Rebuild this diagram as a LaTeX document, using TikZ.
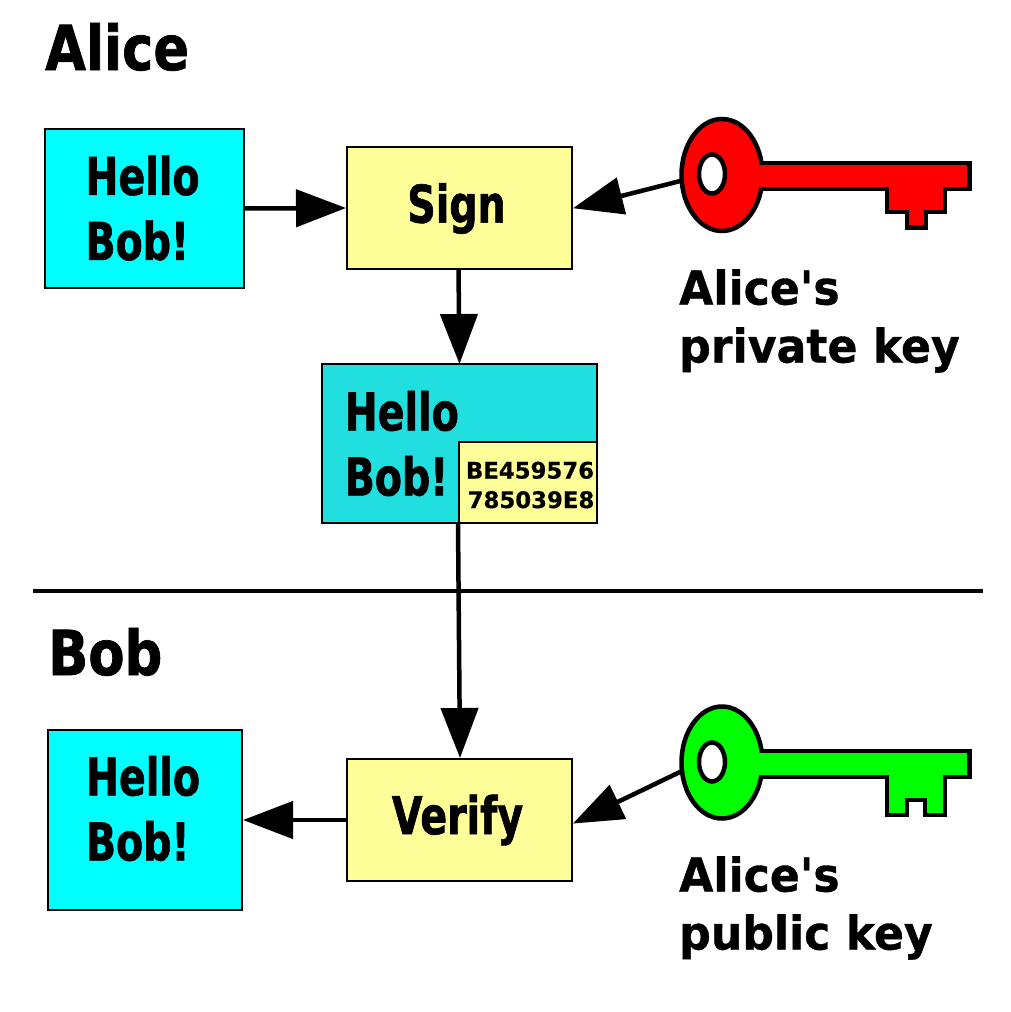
\documentclass[tikz,border=0pt]{standalone}
\usepackage{fontspec}
\usetikzlibrary{arrows.meta,shapes.geometric}
\setmainfont{DejaVu Sans}[Ligatures=NoCommon]
\newfontfamily\wordfont[BoldFont={DejaVu Sans Bold},BoldFeatures={FakeStretch=0.76,FakeBold=1.2}]{DejaVu Sans}
\newfontfamily\titlefont[BoldFont={DejaVu Sans Bold},BoldFeatures={FakeStretch=0.85,FakeBold=1.2}]{DejaVu Sans}
\newfontfamily\labelfont[BoldFont={DejaVu Sans Bold},BoldFeatures={FakeStretch=0.95,FakeBold=0.8}]{DejaVu Sans}
\newfontfamily\sigfont[BoldFont={DejaVu Sans Bold},BoldFeatures={FakeBold=0.4}]{DejaVu Sans}
\definecolor{msgcyan}{HTML}{00FFFF}
\definecolor{sigteal}{HTML}{22DFDF}
\definecolor{boxyellow}{HTML}{FFFF99}
\definecolor{keyred}{HTML}{FF0000}
\definecolor{keygreen}{HTML}{00FF00}
\tikzset{
  box/.style={draw=black,line width=2pt,outer sep=0pt,inner sep=0pt},
  msgbox/.style={box,fill=msgcyan},
  opbox/.style={box,fill=boxyellow},
  word/.style={inner sep=0pt,align=left,font=\wordfont\bfseries\fontsize{52}{65}\selectfont},
  conn/.style={line width=4.5pt,black,-{Triangle[length=50pt,width=37pt]},shorten >=1pt},
  plainconn/.style={line width=4pt,black},
  keyhead/.style={ellipse,draw=black,line width=4.5pt,minimum width=81pt,minimum height=112pt,inner sep=0pt,outer sep=0pt},
  keyhole/.style={ellipse,draw=black,fill=white,line width=4.5pt,minimum width=26pt,minimum height=39pt,inner sep=0pt,outer sep=0pt},
  keyline/.style={draw=black,line width=4.5pt,line join=miter,line cap=butt},
  title/.style={anchor=base west,inner sep=0pt,font=\titlefont\bfseries\fontsize{62}{70}\selectfont},
  keylabel/.style={anchor=north west,inner sep=0pt,align=left,font=\labelfont\bfseries\fontsize{46.5}{58}\selectfont},
}
\begin{document}
\begin{tikzpicture}[x=1pt,y=-1pt]
\useasboundingbox (0,0) rectangle (1010,1012);
\fill[white] (0,0) rectangle (1010,1012);

% divider
\coordinate (divL) at (33,590.5);
\coordinate (divR) at (983,590.5);

% titles
\node[title] (alice) at (45,70) {Alice};
\node[title] (bob) at (48,675) {Bob};

% boxes
\node[msgbox,minimum width=199pt,minimum height=159pt] (msgA) at (144.5,208.5) {};
\node[word] (msgAtext) at (142.5,208) {Hello\\Bob!};
\node[opbox,minimum width=225pt,minimum height=122pt] (sign) at (459.5,208) {};
\node[word] (signtext) at (456.5,208.5) {Sign};
\node[box,fill=sigteal,minimum width=275pt,minimum height=159pt] (signed) at (459.5,443.5) {};
\node[word,anchor=west] (signedtext) at (344.5,443.5) {Hello\\Bob!};
\node[opbox,minimum width=138pt,minimum height=81pt] (sig) at (528,482.5) {};
\node[inner sep=0pt,align=center,font=\sigfont\bfseries\fontsize{22.8}{29.5}\selectfont] (sigtext) at (530,485) {BE459576\\\hspace*{2pt}785039E8};
\node[opbox,minimum width=225pt,minimum height=122pt] (verify) at (459.5,820) {};
\node[word] (verifytext) at (457.5,820) {Verify};
\node[msgbox,minimum width=194pt,minimum height=180pt] (msgB) at (145,820) {};
\node[word] (msgBtext) at (143,808.5) {Hello\\Bob!};

% connectors
\draw[plainconn] (divL) -- (divR);
\draw[conn] (msgA.east) -- (sign.west);
\draw[conn] ([xshift=-1pt]sign.south) -- ([yshift=-1pt]signed.north);
\draw[conn] ([xshift=-1.5pt]signed.south) -- ([xshift=.5pt]verify.north);
\draw[conn] (verify.west) -- (msgB.east);

% red key
\fill[keyred] (750,163) -- (969.5,163) -- (969.5,189) -- (945,189) -- (945,212) -- (926,212) -- (926,227.5) -- (907,227.5) -- (907,212) -- (887,212) -- (887,189) -- (750,189) -- cycle;
\node[keyhead,fill=keyred] (keyR) at (722,175) {};
\fill[keyred] (750,165) rectangle (766,187);
\draw[keyline] (761,163) -- (969.5,163) -- (969.5,189) -- (945,189) -- (945,212) -- (926,212) -- (926,227.5) -- (907,227.5) -- (907,212) -- (887,212) -- (887,189) -- (761,189);
\node[keyhole] (holeR) at (712,174) {};
\draw[conn] (keyR.188) -- ([yshift=-.5pt]sign.east);

% green key
\fill[keygreen] (750,751) -- (969.5,751) -- (969.5,777) -- (945,777) -- (945,815) -- (925,815) -- (925,800) -- (907,800) -- (907,815) -- (887,815) -- (887,777) -- (750,777) -- cycle;
\node[keyhead,fill=keygreen] (keyG) at (722,762.5) {};
\fill[keygreen] (750,753) rectangle (766,775);
\draw[keyline] (761,751) -- (969.5,751) -- (969.5,777) -- (945,777) -- (945,815) -- (925,815) -- (925,800) -- (907,800) -- (907,815) -- (887,815) -- (887,777) -- (761,777);
\node[keyhole] (holeG) at (712,762) {};
\draw[conn] (keyG.192) -- ([yshift=-4pt]verify.east);

% key labels
\node[keylabel] (labelR) at (679,269) {Alice's\\private key};
\node[keylabel] (labelG) at (679,856) {Alice's\\public key};
\end{tikzpicture}
\end{document}
